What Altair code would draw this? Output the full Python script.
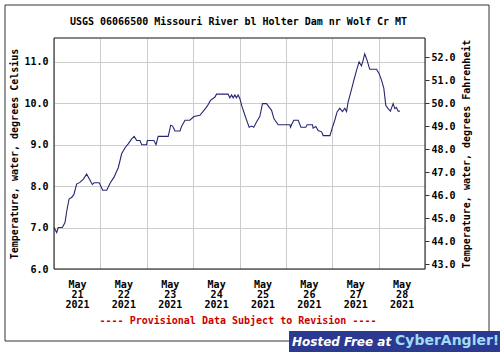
import altair as alt
import pandas as pd

# ---- data (hours since May 21 2021 00:00, deg C) ----
hours = [0, 1.4, 2.2, 4.3, 5.7, 6.6, 7.8, 9.2, 10.3, 11.7,
         13.4, 15.2, 16.9, 18.3, 19.8, 20.8, 23.4, 25.2, 27.3, 29.0,
         31.0, 33.3, 35.0, 36.7, 38.4, 40.2, 41.5, 42.8, 44.5, 45.4,
         47.9, 48.3, 51.7, 52.8, 53.9, 59.1, 60.4, 61.4, 62.6, 65.2,
         66.0, 67.8, 70.3, 72.4, 75.5, 77.6, 79.3, 81.0, 83.3, 84.1,
         90.1, 91.0, 91.9, 92.7, 93.6, 94.4, 95.3, 96.2, 97.1, 98.8,
         100.0, 101.0, 102.3, 103.4, 104.8, 106.5, 107.9, 110.0, 111.4, 112.6,
         113.8, 116.0, 122.1, 122.4, 123.1, 124.1, 126.4, 127.8, 130.3, 131.0,
         133.8, 134.1, 135.5, 136.7, 138.5, 139.3, 142.8, 144.1, 145.3, 146.5,
         147.9, 149.3, 150.5, 151.4, 152.2, 153.6, 155.2, 156.6, 157.9, 159.1,
         160.0, 160.8, 162.0, 163.4, 166.9, 168.2, 169.5, 170.7, 171.7, 172.9,
         174.1, 175.5, 176.4, 177.2, 178.1, 179.0]
temp_c = [7.0, 6.88, 7.0, 7.0, 7.12, 7.4, 7.69, 7.73, 7.8, 8.05,
          8.09, 8.17, 8.29, 8.17, 8.04, 8.08, 8.08, 7.9, 7.9, 8.07,
          8.21, 8.45, 8.78, 8.92, 9.02, 9.14, 9.2, 9.1, 9.1, 9.0,
          9.0, 9.1, 9.1, 9.0, 9.2, 9.2, 9.47, 9.45, 9.33, 9.33,
          9.44, 9.59, 9.59, 9.68, 9.71, 9.83, 9.93, 10.07, 10.15, 10.22,
          10.22, 10.13, 10.2, 10.13, 10.2, 10.13, 10.2, 10.11, 9.95, 9.71,
          9.55, 9.42, 9.45, 9.42, 9.55, 9.68, 9.99, 9.99, 9.9, 9.83,
          9.63, 9.48, 9.48, 9.42, 9.5, 9.59, 9.59, 9.42, 9.42, 9.48,
          9.48, 9.4, 9.44, 9.34, 9.31, 9.22, 9.22, 9.42, 9.59, 9.79,
          9.88, 9.8, 9.88, 9.8, 10.03, 10.27, 10.56, 10.8, 11.0, 10.9,
          11.04, 11.19, 11.04, 10.82, 10.82, 10.72, 10.56, 10.36, 9.95, 9.87,
          9.81, 9.99, 9.87, 9.9, 9.81, 9.81]
day_labels = ["21", "22", "23", "24", "25", "26", "27", "28"]
c_ticks = [6, 7, 8, 9, 10, 11]
f_ticks = [43, 44, 45, 46, 47, 48, 49, 50, 51, 52]
title_text = "USGS 06066500 Missouri River bl Holter Dam nr Wolf Cr MT"
note_text = "---- Provisional Data Subject to Revision ----"

assert len(hours) == len(temp_c)
df = pd.DataFrame({"hours": hours, "temp_c": temp_c})
df["temp_f"] = df["temp_c"] * 1.8 + 32

FONT = "DejaVu Sans Mono"
LINE = "#262673"
W, H = 371, 231
c_dom = [6.0, 11.575]
f_dom = [v * 1.8 + 32 for v in c_dom]
day_ticks = [24 * i for i in range(len(day_labels) + 1)]
label_expr = ("datum.value >= %d ? '' : ['May', ''+(%s[datum.value/24]), '2021']"
              % (day_ticks[-1], "[" + ",".join("'%s'" % d for d in day_labels) + "]"))

x_enc = alt.X(
    "hours:Q",
    scale=alt.Scale(domain=[0, day_ticks[-1]], nice=False, zero=False),
    axis=alt.Axis(values=day_ticks, grid=True, gridColor="#cccccc", ticks=False,
                  domain=False, labelExpr=label_expr, labelOffset=23, labelPadding=10,
                  labelLineHeight=10, labelFont=FONT, labelFontSize=10,
                  labelFontWeight="bold", labelColor="black", labelFlush=False,
                  labelOverlap=False, labelBaseline="top", title=None),
)

left = alt.Chart(df).mark_line(color=LINE, strokeWidth=1.1).encode(
    x=x_enc,
    y=alt.Y("temp_c:Q", scale=alt.Scale(domain=c_dom, nice=False, zero=False),
            axis=alt.Axis(values=c_ticks, format=".1f", grid=True, gridColor="#cccccc",
                          ticks=False, domain=False, labelPadding=6, labelFont=FONT,
                          labelFontSize=10, labelFontWeight="bold", labelColor="black",
                          title="Temperature, water, degrees Celsius", titleFont=FONT,
                          titleFontSize=10, titleFontWeight="bold", titleColor="black",
                          titlePadding=4)),
)

right = alt.Chart(df).mark_line(strokeOpacity=0).encode(
    x=alt.X("hours:Q"),
    y=alt.Y("temp_f:Q", scale=alt.Scale(domain=f_dom, nice=False, zero=False),
            axis=alt.Axis(orient="right", values=f_ticks, format=".1f", grid=False,
                          ticks=True, tickSize=4, tickColor="#333333", domain=False,
                          labelPadding=2, labelFont=FONT, labelFontSize=10,
                          labelFontWeight="bold", labelColor="black",
                          title="Temperature, water, degrees Fahrenheit", titleFont=FONT,
                          titleFontSize=10, titleFontWeight="bold", titleColor="black",
                          titleAngle=270, titleBaseline="top", titlePadding=6)),
)

one = pd.DataFrame({"k": [0]})
plot_border = alt.Chart(one).mark_rect(fill=None, stroke="#111111", strokeWidth=1).encode(
    x=alt.value(0), x2=alt.value(W), y=alt.value(0), y2=alt.value(H))
frame = alt.Chart(one).mark_rect(fill=None, stroke="#333333", strokeWidth=1).encode(
    x=alt.value(-49), x2=alt.value(435), y=alt.value(-33), y2=alt.value(303))
title = alt.Chart(one).mark_text(
    text=title_text, font=FONT, fontSize=10, fontWeight="bold", color="black",
    align="center", baseline="middle").encode(x=alt.value(184.5), y=alt.value(-16))
prov = alt.Chart(one).mark_text(
    text=note_text, font=FONT, fontSize=10, fontWeight="bold", color="#cc0000",
    align="center", baseline="middle").encode(x=alt.value(184), y=alt.value(283))
logo_box = alt.Chart(one).mark_rect(fill="#2b3990").encode(
    x=alt.value(235), x2=alt.value(446), y=alt.value(293), y2=alt.value(314))
logo_t1 = alt.Chart(one).mark_text(
    text="Hosted Free at", font="DejaVu Sans", fontSize=12, fontWeight="bold",
    fontStyle="italic", color="white", align="left", baseline="middle").encode(
    x=alt.value(238), y=alt.value(303.5))
logo_t2 = alt.Chart(one).mark_text(
    text="CyberAngler!", font="DejaVu Sans", fontSize=14, fontWeight="bold",
    color="#9fdcf5", align="left", baseline="middle").encode(
    x=alt.value(341), y=alt.value(303))

chart = (
    alt.layer(left, right, plot_border, frame, title, prov, logo_box, logo_t1, logo_t2)
    .resolve_scale(y="independent")
    .properties(
        width=W, height=H,
        autosize=alt.AutoSizeParams(type="none"),
        padding={"left": 54, "top": 38, "right": 75, "bottom": 83},
        background="white",
    )
    .configure_view(stroke=None)
)

chart.save("out.html", embed_options={"renderer": "svg", "actions": False})
